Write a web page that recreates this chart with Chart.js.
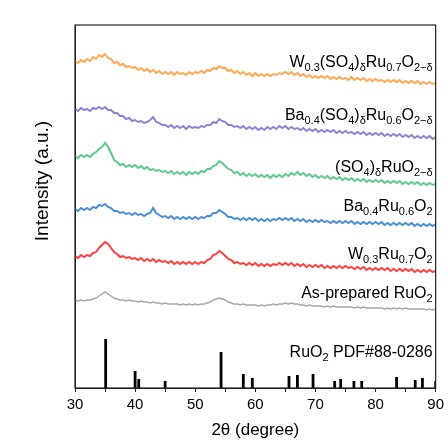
<!DOCTYPE html>
<html>
<head>
<meta charset="utf-8">
<script src="https://cdn.jsdelivr.net/npm/chart.js@4.4.1/dist/chart.umd.min.js"></script>
<style>
  html, body { margin: 0; padding: 0; background: #fff; }
</style>
</head>
<body>
<canvas id="xrd" width="448" height="448"></canvas>
<script>
// 2theta grid of the scans (degree)
const twoTheta = [
  30,30.5,31,31.5,32,32.5,33,33.5,34,34.5,
  35,35.5,36,36.5,37,37.5,38,38.5,39,39.5,
  40,40.5,41,41.5,42,42.5,43,43.5,44,44.5,
  45,45.5,46,46.5,47,47.5,48,48.5,49,49.5,
  50,50.5,51,51.5,52,52.5,53,53.5,54,54.5,
  55,55.5,56,56.5,57,57.5,58,58.5,59,59.5,
  60,60.5,61,61.5,62,62.5,63,63.5,64,64.5,
  65,65.5,66,66.5,67,67.5,68,68.5,69,69.5,
  70,70.5,71,71.5,72,72.5,73,73.5,74,74.5,
  75,75.5,76,76.5,77,77.5,78,78.5,79,79.5,
  80,80.5,81,81.5,82,82.5,83,83.5,84,84.5,
  85,85.5,86,86.5,87,87.5,88,88.5,89,89.5,
  90
];

// stacked intensities (a.u., offset already included)
const wSo4Ru = [
  327,325,328,326,329,327,331,329,333,331,
  334,330,329,325,326,323,324,321,322,320,
  321,318,320,317,319,316,318,315,317,314,
  316,314,316,313,316,314,315,313,316,314,
  316,315,317,315,318,317,320,319,322,320,
  320,317,318,315,317,314,316,313,315,312,
  315,312,314,312,314,312,314,313,315,314,
  316,314,316,313,315,312,314,311,313,310,
  312,310,312,310,312,309,311,309,311,309,
  310,308,311,308,310,308,310,307,309,307,
  309,307,308,306,308,306,308,306,308,305,
  307,305,307,305,307,304,306,304,306,304,
  305
];
const baSo4Ru = [
  279,277,280,278,279,277,280,279,281,279,
  281,278,278,275,275,272,272,269,270,267,
  268,266,267,265,266,268,271,266,265,263,
  263,261,263,260,262,260,262,259,262,260,
  261,260,262,261,263,263,266,265,269,267,
  266,263,263,261,262,260,262,259,261,259,
  261,258,260,258,261,259,261,259,262,260,
  262,259,261,259,260,258,260,257,259,257,
  259,256,258,256,258,256,258,255,257,255,
  257,255,256,254,256,254,256,253,255,253,
  255,253,255,252,254,252,254,252,254,251,
  253,251,253,250,252,250,252,250,252,249,
  251
];
const so4Ru = [
  232,230,233,231,233,231,234,236,239,241,
  245,241,235,228,226,223,224,221,223,221,
  223,220,222,219,221,218,219,217,218,216,
  217,215,217,214,216,214,216,213,216,214,
  216,214,217,216,219,219,222,223,227,225,
  222,219,218,215,216,213,215,212,214,212,
  214,211,213,211,213,210,213,211,213,211,
  214,212,215,213,216,213,215,212,214,211,
  213,210,212,210,212,209,211,209,211,208,
  210,208,210,207,209,207,209,206,208,206,
  208,206,208,205,207,205,207,205,207,204,
  206,204,206,204,206,203,205,203,205,203,
  204
];
const baRu = [
  179,177,180,178,180,178,181,180,183,182,
  184,181,180,177,177,175,176,174,175,173,
  175,173,174,172,174,175,180,175,173,171,
  172,170,172,169,171,169,171,169,171,169,
  171,169,171,170,172,172,175,175,178,176,
  174,171,171,169,170,168,170,168,170,168,
  170,167,169,167,169,167,169,168,170,168,
  170,168,170,167,169,167,169,166,168,166,
  168,166,168,166,167,165,167,165,167,165,
  167,165,167,164,166,164,166,164,166,164,
  166,164,166,163,165,163,165,163,165,163,
  165,163,165,162,164,162,164,162,164,162,
  164
];
const wRu = [
  132,130,133,131,133,132,135,136,140,143,
  146,144,140,136,134,131,132,130,131,129,
  130,128,130,127,129,127,129,126,128,126,
  127,125,127,124,126,124,126,124,126,124,
  126,124,126,125,128,129,133,134,137,135,
  132,129,128,125,126,124,125,123,125,123,
  125,122,124,122,124,122,124,123,125,123,
  125,123,125,122,124,122,124,121,123,121,
  123,121,123,120,122,120,122,120,122,120,
  122,120,121,119,121,119,121,118,120,118,
  120,118,120,118,120,117,119,117,119,117,
  119,117,119,116,118,116,118,116,118,116,
  117
];
const ruO2 = [
  88,87,88,87,88,88,89,90,92,94,
  96,94,92,90,89,88,88,87,88,87,
  87,86,87,86,86,85,86,85,85,84,
  85,84,84,84,84,83,84,83,84,83,
  84,83,84,84,85,86,88,89,90,89,
  88,86,85,84,84,83,84,83,83,83,
  83,82,83,82,83,83,84,83,84,84,
  85,84,85,84,84,83,83,82,83,82,
  82,82,82,81,82,81,82,81,81,81,
  81,81,81,80,81,80,81,80,80,80,
  80,80,80,79,80,79,80,79,80,79,
  80,79,79,79,79,79,79,78,79,78,
  79
];

// RuO2 reference card PDF#88-0286
const pdfPos = [35.1, 40.0, 40.6, 45.0, 54.3, 58.0, 59.5, 65.6, 67.0, 69.6, 73.2, 74.2, 76.4, 77.7, 83.5, 86.6, 87.8, 90.0];
const pdfHeight = [49, 17, 9, 7, 36, 14, 10, 12, 13, 14, 7, 9, 7, 7, 11, 8, 10, 7];

const series = [wSo4Ru, baSo4Ru, so4Ru, baRu, wRu, ruO2];
const colors = ['#FFA850', '#8985D4', '#5ECB8E', '#4A8FD6', '#FF3E3E', '#A8A8A8'];
const widths = [2, 2, 2, 2, 2, 1.5];
const labels = [
  'W_{0.3}(SO_{4})_{δ}Ru_{0.7}O_{2−δ}',
  'Ba_{0.4}(SO_{4})_{δ}Ru_{0.6}O_{2−δ}',
  '(SO_{4})_{δ}RuO_{2−δ}',
  'Ba_{0.4}Ru_{0.6}O_{2}',
  'W_{0.3}Ru_{0.7}O_{2}',
  'As-prepared RuO_{2}',
  'RuO_{2} PDF#88-0286'
];
const labelY = [321, 268, 216, 177, 129, 90, 31];

const datasets = series.map((s, i) => ({
  label: labels[i],
  data: twoTheta.map((x, j) => ({ x: x, y: s[j] })),
  borderColor: colors[i],
  borderWidth: widths[i],
  pointRadius: 0,
  tension: 0
}));

const sticks = [];
pdfPos.forEach((p, i) => {
  sticks.push({ x: p, y: 0 }, { x: p, y: pdfHeight[i] }, { x: p, y: null });
});
datasets.push({
  label: labels[6],
  data: sticks,
  borderColor: '#000',
  borderWidth: 2.8,
  borderCapStyle: 'butt',
  pointRadius: 0,
  spanGaps: false
});

const FONT = '"Liberation Sans", Arial, sans-serif';

function drawRich(ctx, str, xRight, yBase, size) {
  const parts = str.split(/_\{([^}]*)\}/);
  const subSize = Math.round(size * 0.68);
  let w = 0;
  parts.forEach((t, k) => {
    ctx.font = (k % 2 ? subSize : size) + 'px ' + FONT;
    w += ctx.measureText(t).width;
  });
  let x = xRight - w;
  parts.forEach((t, k) => {
    const sub = k % 2 === 1;
    ctx.font = (sub ? subSize : size) + 'px ' + FONT;
    ctx.fillText(t, x, sub ? yBase + 4 : yBase);
    x += ctx.measureText(t).width;
  });
}

const annotate = {
  id: 'annotate',
  afterDraw(chart) {
    const ctx = chart.ctx;
    const a = chart.chartArea;
    const ys = chart.scales.y;
    ctx.save();
    ctx.strokeStyle = '#222';
    ctx.lineWidth = 1.2;
    ctx.strokeRect(a.left, a.top, a.right - a.left, a.bottom - a.top);
    ctx.fillStyle = '#000';
    ctx.textBaseline = 'alphabetic';
    ctx.textAlign = 'left';
    labels.forEach((t, i) => {
      drawRich(ctx, t, a.right - 3, ys.getPixelForValue(labelY[i]), 16);
    });
    ctx.textAlign = 'center';
    ctx.textBaseline = 'middle';
    ctx.font = '17px ' + FONT;
    ctx.fillText('2θ (degree)', (a.left + a.right) / 2, 430);
    ctx.translate(43, 181);
    ctx.rotate(-Math.PI / 2);
    ctx.font = '19px ' + FONT;
    ctx.fillText('Intensity (a.u.)', 0, 0);
    ctx.restore();
  }
};

new Chart(document.getElementById('xrd'), {
  type: 'line',
  data: { datasets: datasets },
  options: {
    responsive: false,
    animation: false,
    layout: { padding: { top: 25, right: 10, left: 0, bottom: 0 } },
    plugins: { legend: { display: false }, tooltip: { enabled: false } },
    scales: {
      x: {
        type: 'linear',
        min: 30,
        max: 90,
        ticks: {
          stepSize: 5,
          autoSkip: false,
          maxRotation: 0,
          padding: 4,
          color: '#000',
          font: { family: FONT, size: 15 },
          callback: v => (v % 10 === 0 ? v : '')
        },
        grid: { drawOnChartArea: false, drawTicks: true, tickLength: 4, color: '#222' },
        border: { color: '#222' },
        afterFit: s => { s.height = 60; }
      },
      y: {
        min: 0,
        max: 363,
        ticks: { display: false },
        grid: { display: false },
        border: { color: '#222' },
        afterFit: s => { s.width = 75; }
      }
    }
  },
  plugins: [annotate]
});
</script>
</body>
</html>
